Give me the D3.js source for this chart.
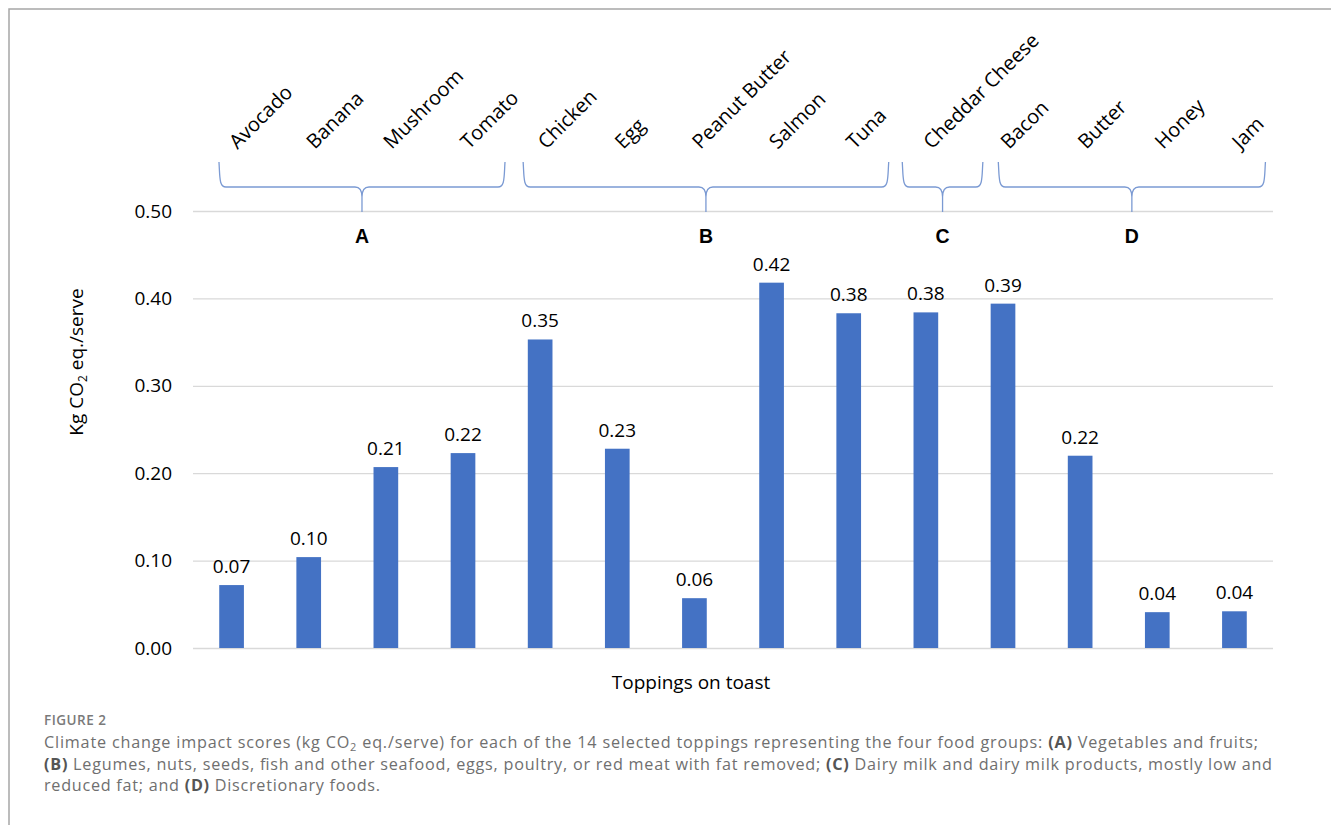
<!DOCTYPE html>
<html>
<head>
<meta charset="utf-8">
<script src="https://cdn.jsdelivr.net/npm/d3@7"></script>
<style>
  html, body { margin: 0; padding: 0; background: #fff; }
  svg { display: block; }
</style>
</head>
<body>
<svg id="chart" width="1331" height="825"></svg>
<script>
// Toppings and their climate change impact (kg CO2 eq. per serve)
const categories = ["Avocado", "Banana", "Mushroom", "Tomato", "Chicken", "Egg", "Peanut Butter",
  "Salmon", "Tuna", "Cheddar Cheese", "Bacon", "Butter", "Honey", "Jam"];
const values = [0.072, 0.104, 0.207, 0.223, 0.353, 0.228, 0.057,
  0.418, 0.383, 0.384, 0.394, 0.220, 0.041, 0.042];

// Food groups: letter plus first and last topping of each group
const groupLetters = ["A", "B", "C", "D"];
const groupFirst = ["Avocado", "Chicken", "Cheddar Cheese", "Bacon"];
const groupLast = ["Tomato", "Tuna", "Cheddar Cheese", "Jam"];

const yTicks = [0, 0.1, 0.2, 0.3, 0.4, 0.5];

const svg = d3.select("#chart");
const W = 1331, H = 825;
const plot = { left: 193, right: 1273, top: 211, bottom: 648 };
const barColor = "#4472C4";
const braceColor = "#7b9ad3";
const sans = "'Open Sans', 'Noto Sans', sans-serif";

// Frame lines along top and left edge
svg.append("path")
  .attr("d", `M9,${H} L9,9 L${W},9`)
  .attr("fill", "none").attr("stroke", "#a6a6a6").attr("stroke-width", 1.5);

const x = d3.scaleBand().domain(categories).range([plot.left, plot.right])
  .paddingInner(0.68).paddingOuter(0.34);
const y = d3.scaleLinear().domain([0, 0.5]).range([plot.bottom, plot.top]);
const cx = c => x(c) + x.bandwidth() / 2;

// Gridlines and value ticks
const yAxis = svg.append("g").attr("transform", `translate(${plot.left},0)`)
  .call(d3.axisLeft(y).tickValues(yTicks).tickFormat(d3.format(".2f"))
    .tickSize(-(plot.right - plot.left)).tickPadding(21));
yAxis.select(".domain").remove();
yAxis.selectAll(".tick line").attr("stroke", "#d9d9d9").attr("stroke-width", 1.3);
yAxis.selectAll(".tick text").attr("font-family", sans).attr("font-size", 19).attr("fill", "#000");

// Bars
const data = categories.map((c, i) => ({ c, v: values[i] }));
svg.append("g").selectAll("rect").data(data).join("rect")
  .attr("x", d => x(d.c)).attr("width", x.bandwidth())
  .attr("y", d => y(d.v)).attr("height", d => y(0) - y(d.v))
  .attr("fill", barColor);

// Value labels
svg.append("g").selectAll("text").data(data).join("text")
  .attr("x", d => cx(d.c)).attr("y", d => y(d.v) - 12)
  .attr("text-anchor", "middle")
  .attr("font-family", sans).attr("font-size", 19).attr("fill", "#000")
  .text(d => d3.format(".2f")(d.v));

// Rotated topping names above the plot
svg.append("g").selectAll("text").data(categories).join("text")
  .attr("transform", c => `translate(${cx(c) + 6},150) rotate(-45)`)
  .attr("font-family", sans).attr("font-size", 20).attr("fill", "#000")
  .text(c => c);

// Curly braces grouping the toppings (left/right reach past the band centres)
const braceReach = [[-12.6, 42], [-17, 40], [-23.6, 57], [-4.7, 31]];
const bTop = 162, bMid = 187, bTip = 212, r = 7;
function bracePath(x0, x1) {
  const m = (x0 + x1) / 2;
  return `M${x0},${bTop} C${x0 + 1},${bMid - 10} ${x0},${bMid} ${x0 + r},${bMid}` +
    ` L${m - r},${bMid} Q${m},${bMid} ${m},${bMid + r + 3} L${m},${bTip}` +
    ` M${m},${bMid + r + 3} Q${m},${bMid} ${m + r},${bMid}` +
    ` L${x1 - r},${bMid} C${x1},${bMid} ${x1 - 1},${bMid - 10} ${x1},${bTop}`;
}
const groups = groupLetters.map((g, i) => ({
  g,
  x0: cx(groupFirst[i]) + braceReach[i][0],
  x1: cx(groupLast[i]) + braceReach[i][1]
}));
svg.append("g").selectAll("path").data(groups).join("path")
  .attr("d", d => bracePath(d.x0, d.x1))
  .attr("fill", "none").attr("stroke", braceColor).attr("stroke-width", 1.3);

svg.append("g").selectAll("text").data(groups).join("text")
  .attr("x", d => (d.x0 + d.x1) / 2).attr("y", 243)
  .attr("text-anchor", "middle")
  .attr("font-family", "'Liberation Sans', Arial, sans-serif")
  .attr("font-weight", "bold").attr("font-size", 19.5).attr("fill", "#000")
  .text(d => d.g);

// Axis titles
const yTitle = svg.append("text")
  .attr("transform", "translate(83,362) rotate(-90)")
  .attr("text-anchor", "middle")
  .attr("font-family", sans).attr("font-size", 19).attr("fill", "#000");
yTitle.append("tspan").text("Kg CO");
yTitle.append("tspan").attr("font-size", 12).attr("dy", 4).text("2");
yTitle.append("tspan").attr("dy", -4).text(" eq./serve");

svg.append("text")
  .attr("x", 691).attr("y", 689).attr("text-anchor", "middle")
  .attr("font-family", sans).attr("font-size", 19).attr("fill", "#000")
  .text("Toppings on toast");

// Figure caption
const capColor = "#6f6f6f", capBold = "#555";
svg.append("text")
  .attr("x", 44).attr("y", 725)
  .attr("font-family", sans).attr("font-size", 13.5).attr("font-weight", 600)
  .attr("fill", "#7a7a7a").attr("textLength", 62).attr("lengthAdjust", "spacing")
  .text("FIGURE 2");

const captionLines = [
  { y: 748, len: 1214, parts: [
    ["Climate change impact scores (kg CO"], ["2", "sub"], [" eq./serve) for each of the 14 selected toppings representing the four food groups: "],
    ["(A)", "b"], [" Vegetables and fruits;"]] },
  { y: 770, len: 1228, parts: [
    ["(B)", "b"], [" Legumes, nuts, seeds, fish and other seafood, eggs, poultry, or red meat with fat removed; "],
    ["(C)", "b"], [" Dairy milk and dairy milk products, mostly low and"]] },
  { y: 791, len: 336, parts: [
    ["reduced fat; and "], ["(D)", "b"], [" Discretionary foods."]] }
];
captionLines.forEach(line => {
  const t = svg.append("text")
    .attr("x", 44).attr("y", line.y)
    .attr("font-family", sans).attr("font-size", 16.2).attr("fill", capColor)
    .attr("textLength", line.len).attr("lengthAdjust", "spacing");
  let shifted = false;
  line.parts.forEach(([s, kind]) => {
    const ts = t.append("tspan").text(s);
    if (kind === "b") ts.attr("font-weight", 700).attr("fill", capBold);
    if (kind === "sub") { ts.attr("font-size", 11).attr("dy", 3); shifted = true; }
    else if (shifted) { ts.attr("dy", -3); shifted = false; }
  });
});
</script>
</body>
</html>
